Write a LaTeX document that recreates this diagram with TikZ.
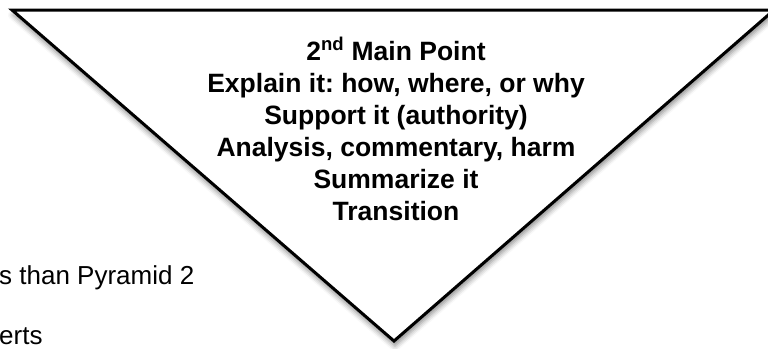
\documentclass[tikz,border=0pt]{standalone}
\usepackage{fontspec}
\setmainfont{Liberation Sans}
\usetikzlibrary{shadows.blur}
\frenchspacing
\begin{document}
\begin{tikzpicture}[x=1pt,y=-1pt,
  tri/.style={draw=black, line width=3pt, line join=miter, fill=white,
    blur shadow={shadow xshift=1pt, shadow yshift=-5pt, shadow blur radius=5pt, shadow opacity=45}},
  maintext/.style={align=center, font=\bfseries\fontsize{26.5}{32}\selectfont, inner sep=0pt},
  sidetext/.style={anchor=base west, font=\fontsize{26}{30}\selectfont, inner sep=0pt}
]
\useasboundingbox (0,0) rectangle (768,348);
\path[tri] (12,10) -- (774,10) -- (394,341) -- cycle;
\node[maintext, anchor=base] (pts) at (396,220) {2\textsuperscript{nd} Main Point\\Explain it: how, where, or why\\Support it (authority)\\Analysis, commentary, harm\\Summarize it\\Transition};
\node[sidetext] (s1) at (-1,284) {s than Pyramid 2};
\node[sidetext] (s2) at (-1,344) {erts};
\end{tikzpicture}
\end{document}
